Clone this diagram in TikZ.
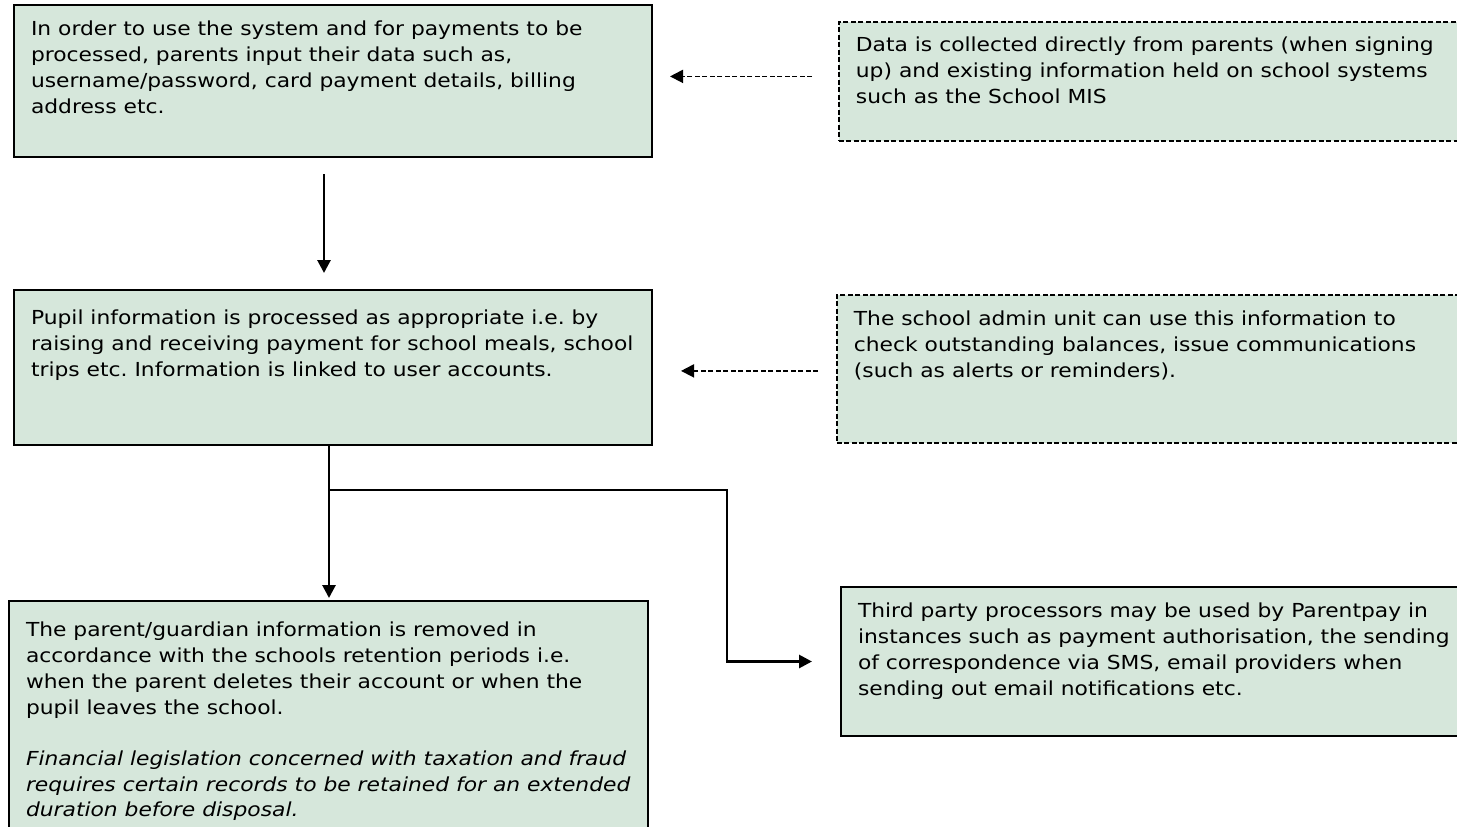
\documentclass[tikz,border=0pt]{standalone}
\usepackage{fontspec}
\setmainfont{DejaVu Sans}[FakeStretch=1.13]
\usepackage{tikz}
\usetikzlibrary{positioning, arrows.meta}

\definecolor{boxfill}{RGB}{214,231,219}
\newcommand{\boxtext}[3]{\parbox[t][#2][t]{#1}{\frenchspacing\strut#3}}

\begin{document}
\begin{tikzpicture}[
  x=1pt, y=-1pt,
  >={Triangle[length=13pt,width=13pt]},
  every node/.style={font=\fontsize{19.3}{25.7}\selectfont},
  flowbox/.style={draw, fill=boxfill, line width=2pt, anchor=north west, inner xsep=17pt},
  notebox/.style={flowbox, line width=1.8pt, dash pattern=on 5pt off 2.5pt},
  link/.style={->, line width=2.8pt},
  feed/.style={->, line width=1.8pt, dash pattern=on 5pt off 2.5pt}
]
  \useasboundingbox (0,0) rectangle (1457,827);
  \clip (0,0) rectangle (1457,827);

  \node[flowbox, inner ysep=13pt] (A) at (13,4) {\boxtext{604pt}{126pt}{In order to use the system and for payments to be\\
    processed, parents input their data such as,\\
    username/password, card payment details, billing\\
    address etc.}};
  \node[notebox, inner ysep=12pt] (B) at (838,21) {\boxtext{620pt}{95pt}{Data is collected directly from parents (when signing\\
    up) and existing information held on school systems\\
    such as the School MIS}};
  \node[flowbox, inner ysep=17pt] (C) at (13,289) {\boxtext{604pt}{121pt}{Pupil information is processed as appropriate i.e. by\\
    raising and receiving payment for school meals, school\\
    trips etc. Information is linked to user accounts.}};
  \node[notebox, inner ysep=13pt] (D) at (836,294) {\boxtext{620pt}{122pt}{The school admin unit can use this information to\\
    check outstanding balances, issue communications\\
    (such as alerts or reminders).}};
  \node[flowbox, inner ysep=18pt] (E) at (8,600) {\boxtext{605pt}{230pt}{The parent/guardian information is removed in\\
    accordance with the schools retention periods i.e.\\
    when the parent deletes their account or when the\\
    pupil leaves the school.\\[25.7pt]
    \textit{Financial legislation concerned with taxation and fraud\\
    requires certain records to be retained for an extended\\
    duration before disposal.}}};
  \node[flowbox, inner ysep=13pt] (F) at (840,586) {\boxtext{620pt}{123pt}{Third party processors may be used by Parentpay in\\
    instances such as payment authorisation, the sending\\
    of correspondence via SMS, email providers when\\
    sending out email notifications etc.}};

  \coordinate (J) at ([xshift=-4pt]C.south |- 0,490);
  \coordinate (K) at ([xshift=-113pt]F.west);

  \draw[feed, shorten <=26pt, shorten >=17pt] ([yshift=5pt]B.west) -- ([yshift=5pt]B.west -| A.east);
  \draw[feed, shorten <=18pt, shorten >=28pt] ([yshift=-2pt]D.west) -- ([yshift=-2pt]D.west -| C.east);
  \draw[link, shorten <=16pt, shorten >=16pt] ([xshift=-9pt]A.south) -- ([xshift=-9pt]A.south |- C.north);
  \draw[link, shorten >=2pt] ([xshift=-4pt]C.south) -- ([xshift=-4pt]C.south |- E.north);
  \draw[link, shorten >=28pt] (J) -| (K) -- (F.west);
\end{tikzpicture}
\end{document}
